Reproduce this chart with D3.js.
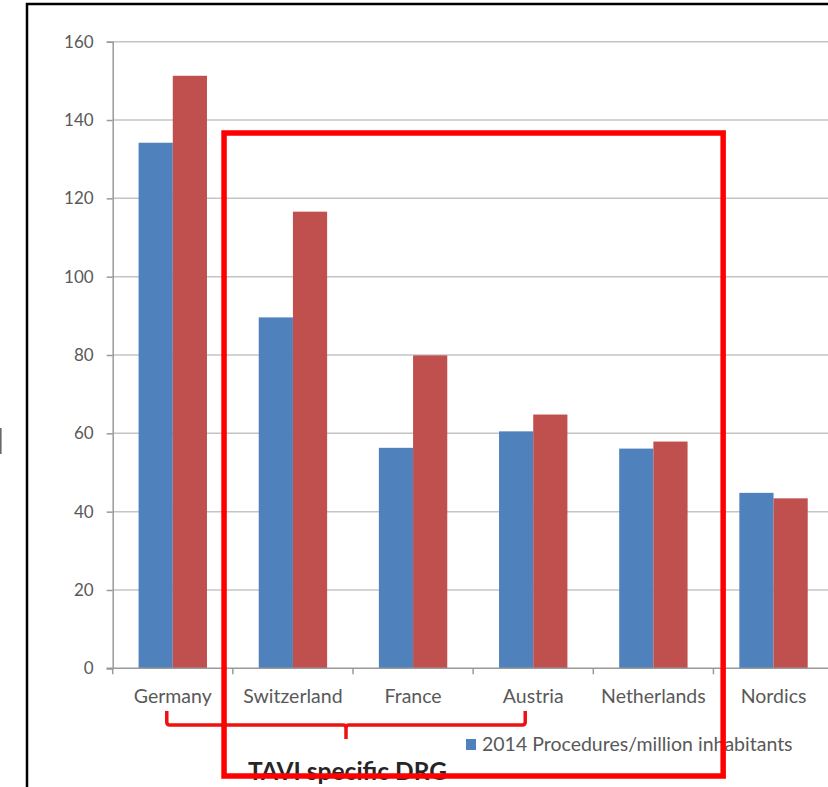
<!DOCTYPE html>
<html>
<head>
<meta charset="utf-8">
<script src="https://cdn.jsdelivr.net/npm/d3@7"></script>
<style>
  html, body { margin: 0; padding: 0; background: #fff; }
  svg { display: block; }
  text { font-family: Lato, "Open Sans", sans-serif; }
</style>
</head>
<body>
<svg id="chart" width="828" height="787"></svg>
<script>
// Countries along the x axis
const categories = ["Germany", "Switzerland", "France", "Austria", "Netherlands", "Nordics"];
// Procedures per million inhabitants, two consecutive years
const seriesA = [134.2, 89.6, 56.3, 60.5, 56.1, 44.8];
const seriesB = [151.3, 116.6, 79.9, 64.8, 57.9, 43.4];
const seriesKeys = ["a", "b"];
const seriesColors = ["#4f81bd", "#c0504d"];
const legendLabel = "2014 Procedures/million inhabitants";
const yTicks = [0, 20, 40, 60, 80, 100, 120, 140, 160];
const bracketGroup = ["Germany", "Austria"];
const highlightGroup = ["Switzerland", "Netherlands"];
const highlightLabel = "TAVI specific DRG";

const svg = d3.select("#chart");
const plotLeft = 112.7, plotTop = 41.7, plotBottom = 668.3;
const step = 120.15;

const x = d3.scaleBand()
  .domain(categories)
  .range([plotLeft, plotLeft + step * categories.length])
  .padding(0);

const xi = d3.scaleBand()
  .domain(seriesKeys)
  .range([0, x.bandwidth()])
  .paddingInner(0)
  .paddingOuter(0.757);

const y = d3.scaleLinear().domain([0, 160]).range([plotBottom, plotTop]);

// Outer frame
svg.append("path")
  .attr("d", "M27,900 L27,4 L900,4")
  .attr("fill", "none")
  .attr("stroke", "#000")
  .attr("stroke-width", 2.5);

// Clipped axis-title glyph at the left edge
svg.append("rect")
  .attr("x", 0).attr("y", 428).attr("width", 1.6).attr("height", 26)
  .attr("fill", "#6a6a6a");

// Horizontal gridlines
svg.append("g")
  .selectAll("line")
  .data(yTicks.filter(d => d > 0))
  .join("line")
  .attr("x1", plotLeft).attr("x2", 828)
  .attr("y1", d => y(d)).attr("y2", d => y(d))
  .attr("stroke", "#c4c4c4")
  .attr("stroke-width", 1.5);

// Y axis
const yAxis = svg.append("g")
  .attr("transform", `translate(${plotLeft},0)`)
  .call(d3.axisLeft(y).tickValues(yTicks).tickSize(6).tickPadding(13).tickFormat(d3.format("d")));
yAxis.select(".domain").attr("stroke", "#9a9a9a").attr("stroke-width", 1.5);
yAxis.selectAll(".tick line").attr("stroke", "#9a9a9a").attr("stroke-width", 1.5);
yAxis.selectAll(".tick text")
  .attr("fill", "#595959")
  .style("font-size", "17px")
  .style("font-family", "Lato, sans-serif");

// Bars
const rows = categories.map((c, i) => ({ cat: c, vals: [seriesA[i], seriesB[i]] }));
const groups = svg.append("g")
  .selectAll("g")
  .data(rows)
  .join("g")
  .attr("transform", d => `translate(${x(d.cat)},0)`);

groups.selectAll("rect")
  .data(d => d.vals.map((v, k) => ({ key: seriesKeys[k], v, k })))
  .join("rect")
  .attr("x", d => xi(d.key))
  .attr("width", xi.bandwidth())
  .attr("y", d => y(d.v))
  .attr("height", d => y(0) - y(d.v))
  .attr("fill", d => seriesColors[d.k]);

// X axis
const xAxis = svg.append("g")
  .attr("transform", `translate(0,${plotBottom})`)
  .call(d3.axisBottom(x).tickSize(0).tickPadding(21));
xAxis.select(".domain").remove();
xAxis.selectAll(".tick text")
  .attr("fill", "#595959")
  .style("font-size", "19.5px")
  .style("font-family", "Lato, sans-serif");
svg.append("line")
  .attr("x1", plotLeft - 6).attr("x2", 828)
  .attr("y1", plotBottom).attr("y2", plotBottom)
  .attr("stroke", "#9a9a9a").attr("stroke-width", 1.5);
svg.append("g")
  .selectAll("line")
  .data(d3.range(categories.length + 1))
  .join("line")
  .attr("x1", i => plotLeft + i * step).attr("x2", i => plotLeft + i * step)
  .attr("y1", plotBottom).attr("y2", plotBottom + 6)
  .attr("stroke", "#9a9a9a").attr("stroke-width", 1.5);

// Legend
svg.append("rect")
  .attr("x", 466).attr("y", 739).attr("width", 10).attr("height", 11)
  .attr("fill", seriesColors[0]);
svg.append("text")
  .attr("x", 482).attr("y", 751)
  .attr("fill", "#595959")
  .style("font-size", "19.5px")
  .text(legendLabel);

// Group label
svg.append("text")
  .attr("x", 248).attr("y", 780)
  .attr("fill", "#262626")
  .style("font-size", "24.5px")
  .style("font-weight", "bold")
  .text(highlightLabel);

// Bracket under the first four countries
const bx0 = x(bracketGroup[0]) + x.bandwidth() / 2 - 6;
const bx1 = x(bracketGroup[1]) + x.bandwidth() / 2 - 8;
const bm = (bx0 + bx1) / 2;
const by0 = 711, by1 = 725, by2 = 739, r = 3;
svg.append("path")
  .attr("d", `M${bx0},${by0} L${bx0},${by1 - r} Q${bx0},${by1} ${bx0 + r},${by1}
              L${bm - r},${by1} Q${bm},${by1} ${bm},${by1 + r} L${bm},${by2}
              M${bm},${by1 + r} Q${bm},${by1} ${bm + r},${by1}
              L${bx1 - r},${by1} Q${bx1},${by1} ${bx1},${by1 - r} L${bx1},${by0}`)
  .attr("fill", "none")
  .attr("stroke", "#ee1111")
  .attr("stroke-width", 3.5)
  .attr("stroke-linejoin", "round");

// Highlight box
const hx0 = x(highlightGroup[0]) - 8.8;
const hx1 = x(highlightGroup[1]) + x.bandwidth() + 9.7;
svg.append("rect")
  .attr("x", hx0).attr("y", 133)
  .attr("width", hx1 - hx0).attr("height", 776 - 133)
  .attr("fill", "none")
  .attr("stroke", "#ff0000")
  .attr("stroke-width", 5.5);
</script>
</body>
</html>
